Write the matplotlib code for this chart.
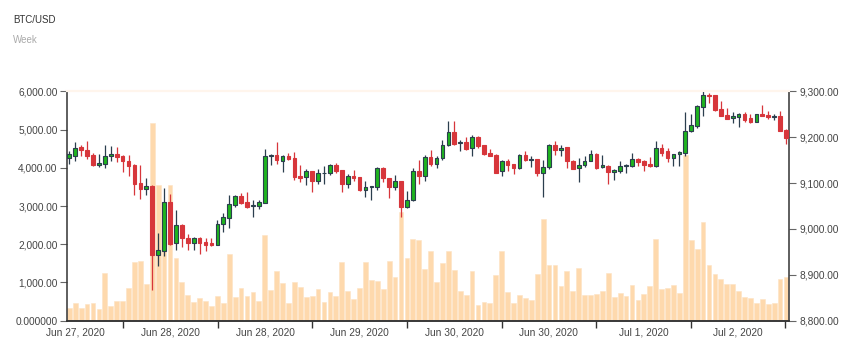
import numpy as np
import matplotlib
matplotlib.use("Agg")
import matplotlib.pyplot as plt

plt.rcParams['font.family'] = ['Liberation Sans', 'DejaVu Sans']

# hourly BTC/USD candles
opens = [9155, 9160, 9178, 9171, 9161, 9139, 9142, 9158, 9163, 9159,
         9147, 9139, 9100, 9086, 9093, 8943, 8953, 9059, 8969, 9009,
         8981, 8969, 8980, 8972, 8969, 8964, 9010, 9023, 9052, 9072,
         9059, 9049, 9050, 9057, 9158, 9161, 9149, 9159, 9154, 9116,
         9113, 9126, 9105, 9121, 9123, 9139, 9128, 9098, 9116, 9114,
         9085, 9091, 9091, 9132, 9111, 9092, 9104, 9048, 9064, 9126,
         9116, 9156, 9142, 9155, 9182, 9212, 9187, 9189, 9176, 9201,
         9182, 9165, 9161, 9126, 9148, 9141, 9132, 9161, 9150, 9152,
         9121, 9134, 9184, 9171, 9178, 9148, 9132, 9139, 9148, 9164,
         9135, 9137, 9125, 9126, 9137, 9138, 9153, 9147, 9142, 9137,
         9177, 9169, 9154, 9163, 9166, 9214, 9224, 9265, 9292, 9292,
         9262, 9248, 9242, 9245, 9251, 9241, 9234, 9250, 9248, 9244,
         9246, 9216]
highs = [9169, 9189, 9183, 9192, 9165, 9163, 9184, 9180, 9179, 9161,
         9161, 9142, 9139, 9110, 9096, 8992, 9090, 9077, 9041, 9010,
         8989, 8983, 8983, 8981, 8980, 9020, 9034, 9075, 9074, 9079,
         9080, 9063, 9062, 9174, 9163, 9190, 9161, 9165, 9168, 9139,
         9131, 9126, 9131, 9137, 9142, 9144, 9128, 9119, 9128, 9114,
         9104, 9094, 9135, 9135, 9111, 9118, 9104, 9083, 9132, 9150,
         9161, 9171, 9160, 9194, 9235, 9235, 9194, 9200, 9204, 9203,
         9183, 9175, 9163, 9150, 9153, 9142, 9164, 9169, 9159, 9152,
         9151, 9185, 9192, 9183, 9178, 9150, 9154, 9159, 9171, 9166,
         9161, 9139, 9130, 9148, 9141, 9165, 9155, 9150, 9157, 9192,
         9185, 9177, 9164, 9169, 9254, 9250, 9270, 9301, 9296, 9292,
         9279, 9264, 9254, 9252, 9255, 9251, 9250, 9270, 9257, 9251,
         9257, 9217]
lows = [9141, 9147, 9160, 9153, 9137, 9135, 9132, 9148, 9145, 9125,
        9116, 9074, 9065, 9074, 8867, 8920, 8942, 8965, 8955, 8961,
        8955, 8955, 8946, 8953, 8962, 8964, 8993, 9003, 9048, 9054,
        9046, 9025, 9044, 9056, 9139, 9141, 9125, 9150, 9107, 9103,
        9096, 9081, 9099, 9099, 9118, 9123, 9081, 9089, 9105, 9083,
        9070, 9064, 9084, 9102, 9067, 9085, 9027, 9045, 9061, 9099,
        9105, 9137, 9132, 9150, 9181, 9184, 9169, 9172, 9158, 9176,
        9162, 9159, 9122, 9116, 9127, 9120, 9131, 9147, 9135, 9115,
        9069, 9131, 9162, 9160, 9132, 9131, 9103, 9135, 9147, 9131,
        9132, 9097, 9107, 9121, 9121, 9136, 9137, 9127, 9135, 9135,
        9160, 9145, 9138, 9138, 9158, 9212, 9221, 9247, 9274, 9256,
        9246, 9240, 9230, 9222, 9234, 9230, 9232, 9246, 9239, 9237,
        9214, 9186]
closes = [9163, 9177, 9171, 9160, 9139, 9143, 9159, 9163, 9157, 9147,
          9138, 9099, 9086, 9093, 8943, 8954, 9059, 8968, 9008, 8980,
          8969, 8980, 8969, 8966, 8964, 9010, 9025, 9054, 9072, 9057,
          9048, 9052, 9059, 9159, 9161, 9150, 9159, 9153, 9113, 9112,
          9126, 9105, 9121, 9123, 9139, 9127, 9098, 9116, 9112, 9084,
          9091, 9094, 9132, 9110, 9091, 9104, 9048, 9064, 9126, 9116,
          9156, 9142, 9155, 9182, 9212, 9186, 9189, 9174, 9201, 9181,
          9163, 9160, 9123, 9147, 9139, 9132, 9161, 9150, 9153, 9121,
          9136, 9184, 9171, 9177, 9147, 9131, 9139, 9148, 9164, 9132,
          9139, 9125, 9128, 9137, 9139, 9153, 9145, 9139, 9137, 9177,
          9166, 9154, 9163, 9167, 9214, 9227, 9267, 9291, 9290, 9260,
          9247, 9240, 9246, 9250, 9238, 9234, 9250, 9247, 9243, 9246,
          9214, 9198]
volumes = [331, 462, 331, 427, 453, 314, 1246, 383, 523, 514,
           854, 1524, 1550, 958, 5183, 3540, 1816, 3543, 1640, 1012,
           672, 497, 593, 515, 384, 646, 455, 1737, 628, 855,
           646, 750, 523, 2241, 802, 1290, 994, 463, 1020, 873,
           620, 646, 820, 489, 750, 646, 1527, 777, 560, 855,
           1535, 1056, 1038, 829, 1562, 1143, 2852, 1640, 2128, 2102,
           1352, 1831, 1012, 1509, 1831, 1326, 768, 672, 1308, 410,
           489, 471, 1203, 1831, 750, 471, 672, 593, 549, 1221,
           2660, 1457, 1457, 899, 1300, 777, 1370, 663, 672, 689,
           768, 1247, 620, 724, 654, 925, 549, 698, 916, 2128,
           829, 855, 934, 724, 4335, 2111, 1876, 2573, 1457, 1221,
           1082, 960, 951, 768, 620, 602, 455, 560, 437, 463,
           1090, 1143]

day_labels = ["Jun 27, 2020", "Jun 28, 2020", "Jun 28, 2020", "Jun 29, 2020",
              "Jun 30, 2020", "Jun 30, 2020", "Jul 1, 2020", "Jul 2, 2020"]
vol_ticks = [0, 1000, 2000, 3000, 4000, 5000, 6000]
vol_labels = ["0.000000", "1,000.00", "2,000.00", "3,000.00", "4,000.00",
              "5,000.00", "6,000.00"]
price_ticks = [8800, 8900, 9000, 9100, 9200, 9300]
price_labels = ["8,800.00", "8,900.00", "9,000.00", "9,100.00", "9,200.00",
                "9,300.00"]

o = np.array(opens, float)
h = np.array(highs, float)
l = np.array(lows, float)
c = np.array(closes, float)
v = np.array(volumes, float)
x = np.arange(len(o))

RED = '#d7363b'
GREEN = '#1fb41f'
DARK = '#2b3e4e'
AXC = '#333333'
TXT = '#444444'

fig = plt.figure(figsize=(8.49, 3.47), dpi=100)
ax = fig.add_axes([67.3/849, 1-320.7/347, (789.3-67.3)/849, (320.7-91.3)/347])
ax2 = ax.twinx()

# volume bars on the left axis
ax.bar(x, v, width=0.8, color='#fed9ad', edgecolor='#fde3c4', linewidth=0.4, zorder=1)
ax.set_ylim(0, 6000)
ax.set_xlim(-0.34, 121.56)

# candles on the right axis
up = c >= o
wick_col = np.where(up, DARK, RED)
ax2.vlines(x, l, h, colors=wick_col, linewidth=0.9, zorder=2)
body_lo = np.minimum(o, c)
body_h = np.maximum(np.abs(c - o), 1.2)
ax2.bar(x[up], body_h[up], bottom=body_lo[up], width=0.62,
        color=GREEN, edgecolor=DARK, linewidth=0.8, zorder=3)
ax2.bar(x[~up], body_h[~up], bottom=body_lo[~up], width=0.62,
        color=RED, edgecolor=RED, linewidth=0.8, zorder=3)
ax2.set_ylim(8800, 9300)
ax2.set_xlim(-0.34, 121.56)

ax.set_yticks(vol_ticks)
ax.set_yticklabels(vol_labels)
ax2.set_yticks(price_ticks)
ax2.set_yticklabels(price_labels)

# x axis: tick marks between days, labels centred in between
major = [9.1 + 15.97*k for k in range(8)]
minor = [1.1 + 15.97*k for k in range(8)]
ax.set_xticks(major)
ax.set_xticklabels([''] * len(major))
ax.set_xticks(minor, minor=True)
ax.set_xticklabels(day_labels, minor=True)
ax.tick_params(axis='x', which='minor', length=0, pad=5,
               labelsize=7.3, labelcolor=TXT)
ax.tick_params(axis='x', which='major', length=5, width=1, color=AXC)

for a in (ax, ax2):
    a.tick_params(axis='y', length=5, width=0.8, color='#666666',
                  labelsize=7.3, labelcolor=TXT, pad=2)
    for s in ('left', 'right', 'bottom'):
        a.spines[s].set_color(AXC)
        a.spines[s].set_linewidth(1.1)
    a.spines['top'].set_color('#fff5ec')
    a.spines['top'].set_linewidth(1.5)
ax2.spines['left'].set_visible(False)
ax.spines['right'].set_visible(False)

fig.text(13/849, 1-20/347, "BTC/USD", fontsize=7, color='#333333', va='center')
fig.text(13/849, 1-40/347, "Week", fontsize=7, color='#aaaaaa', va='center')

fig.savefig("out.png", dpi=100)
